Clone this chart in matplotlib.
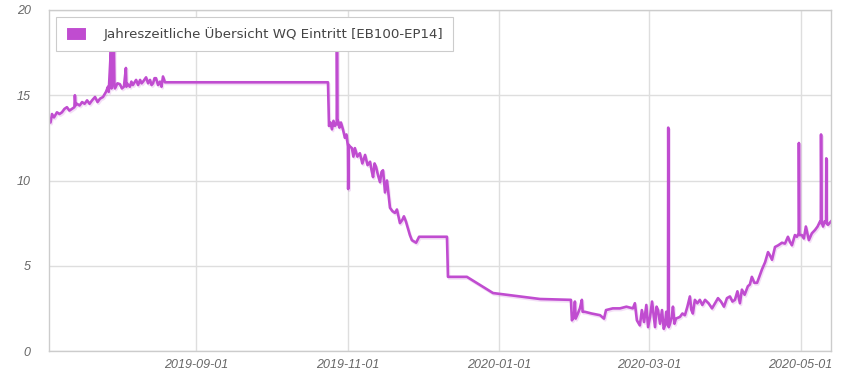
import matplotlib
matplotlib.use("Agg")
import matplotlib.pyplot as plt
import matplotlib.dates as mdates
import matplotlib.patheffects as pe
from matplotlib.patches import Patch
import pandas as pd

# Messwerte WQ Eintritt, Tage ab Startdatum
start = "2019-07-04"
days = [
    0, 0.6, 1.2, 2.0, 3.2, 4.2, 5.2, 6.2, 7.2, 8.2, 9.2, 10.2, 10.4, 10.7, 11.2, 12.3,
    13.3, 14.3, 15.3, 16.3, 17.3, 18.5, 19.5, 20.5, 21.7, 22.9, 23.7, 24.0, 24.9, 25.1,
    25.3, 26.1, 26.3, 26.5, 27.5, 28.5, 29.3, 30.1, 30.9, 31.1, 31.3, 32.5, 33.1, 33.7,
    35.0, 35.8, 36.6, 37.2, 37.8, 39.0, 39.8, 40.6, 41.2, 41.8, 42.4, 43.0, 43.8, 44.6,
    45.2, 45.8, 46.6,
    112.1, 112.5, 113.1, 113.7, 114.3, 114.9, 115.6, 115.7, 115.9, 116.1, 116.7, 117.3,
    118.1, 118.9, 119.5, 120.1, 120.2, 120.4, 120.9, 121.7, 122.3, 122.9, 123.9, 124.9,
    125.9, 127.0, 128.0, 129.0, 129.6, 130.2, 130.8, 131.4, 132.2, 133.0, 133.6, 134.2,
    134.6, 135.0, 135.8, 137.0, 138.0, 139.0, 139.8, 141.0, 142.0, 142.6, 143.4, 144.2,
    145.0, 145.8, 147.5, 148.7, 159.9, 160.3, 167.9, 178.4, 197.3, 209.7,
    210.1, 210.9, 211.3, 211.6, 212.5, 213.3, 214.1, 214.4, 215.3, 218.0, 221.4, 223.0,
    223.8, 226.5, 229.4, 232.0, 234.6, 235.4, 236.2, 237.4, 238.2, 239.1, 240.0, 240.7,
    241.5, 242.3, 243.5, 244.1, 244.7, 245.5, 246.3, 247.0, 247.5, 248.0, 248.7, 248.8,
    249.0, 249.5, 250.2, 250.7, 251.3, 251.9, 253.5, 254.5, 255.5, 256.5, 257.5, 258.1,
    258.7, 259.5, 260.5, 261.5, 262.5, 263.6, 265.0, 266.4, 267.6, 268.8, 270.0, 271.2,
    272.4, 273.6, 274.6, 275.6, 276.6, 277.6, 278.4, 279.5, 280.8, 281.6, 282.4, 283.4,
    284.5, 285.5, 286.5, 287.7, 288.9, 289.7, 290.5, 291.7, 293.0, 294.5, 295.7, 296.9,
    297.7, 298.5, 299.7, 300.5, 301.2, 301.3, 301.5, 302.5, 303.3, 304.1, 305.3, 306.5,
    307.8, 308.8, 309.8, 310.1, 310.2, 310.4, 311.0, 311.6, 312.2, 312.3, 312.5, 313.0,
    314.2,
]
values = [
    13.5, 13.4, 13.9, 13.7, 14.0, 13.9, 14.0, 14.2, 14.3, 14.1, 14.2, 14.3, 15.0, 14.4, 14.5, 14.4,
    14.6, 14.5, 14.7, 14.5, 14.7, 14.9, 14.6, 14.8, 14.9, 15.2, 15.5, 15.2, 17.8, 15.4,
    15.6, 17.8, 15.5, 15.4, 15.7, 15.65, 15.4, 15.5, 16.6, 15.5, 15.7, 15.5, 15.8, 15.6,
    15.9, 15.6, 15.9, 15.7, 15.8, 16.05, 15.7, 15.9, 15.6, 15.7, 16.0, 16.0, 15.6, 15.8,
    15.5, 16.1, 15.76,
    15.76, 13.2, 13.4, 13.0, 13.5, 13.2, 13.4, 17.8, 13.3, 13.5, 13.1, 13.4,
    13.0, 12.5, 12.7, 12.0, 9.5, 12.1, 12.0, 11.9, 11.4, 11.9, 11.4, 11.6,
    11.0, 11.5, 10.9, 11.1, 10.6, 10.2, 11.0, 10.8, 10.3, 9.9, 10.5, 10.6,
    10.0, 9.3, 10.0, 8.4, 8.2, 8.1, 8.3, 7.5, 7.7, 7.9, 7.6, 7.2,
    6.8, 6.5, 6.35, 6.7, 6.7, 4.35, 4.35, 3.4, 3.05, 3.0,
    1.8, 2.0, 2.9, 1.9, 2.2, 2.5, 3.0, 2.3, 2.3, 2.2, 2.1, 1.9,
    2.4, 2.5, 2.5, 2.6, 2.5, 2.8, 1.8, 1.5, 2.4, 1.7, 2.7, 1.4,
    2.0, 2.9, 1.4, 2.6, 2.4, 1.6, 2.4, 1.3, 1.5, 2.3, 1.5, 13.1,
    1.4, 1.6, 2.0, 2.6, 1.6, 1.9, 2.0, 2.2, 2.1, 2.6, 3.2, 2.4,
    2.2, 3.0, 2.8, 3.0, 2.7, 3.0, 2.8, 2.5, 2.8, 3.1, 2.9, 2.6,
    3.1, 3.2, 2.9, 3.0, 3.5, 2.8, 3.6, 3.3, 3.8, 3.9, 4.35, 4.0,
    4.0, 4.4, 4.8, 5.2, 5.8, 5.6, 5.35, 6.1, 6.2, 6.35, 6.3, 6.7,
    6.4, 6.2, 6.8, 6.7, 6.9, 12.2, 6.8, 6.8, 6.6, 7.3, 6.5, 6.9,
    7.1, 7.3, 7.6, 7.5, 12.7, 7.6, 7.3, 7.6, 7.5, 11.3, 7.5, 7.4,
    7.6,
]
label = "Jahreszeitliche Übersicht WQ Eintritt [EB100-EP14]"
yticks = [0, 5, 10, 15, 20]
xticks = ["2019-09-01", "2019-11-01", "2020-01-01", "2020-03-01", "2020-05-01"]

color = "#c04cd0"
grid_color = "#dedede"
tick_color = "#666666"

dates = pd.Timestamp(start) + pd.to_timedelta(days, unit="D")

fig = plt.figure(figsize=(8.5, 3.75), dpi=100)
ax = fig.add_axes([49 / 850, 1 - 351 / 375, 782 / 850, 341 / 375])

ax.plot(dates, values, color=color, lw=1.9, solid_joinstyle="round",
        path_effects=[pe.SimpleLineShadow(offset=(0.8, -1.2), alpha=0.18, shadow_color=color),
                      pe.Normal()])

ax.set_xlim(dates[0], dates[-1])
ax.set_ylim(0, 20)
ax.set_yticks(yticks)
ax.set_xticks(pd.to_datetime(xticks))
ax.xaxis.set_major_formatter(mdates.DateFormatter("%Y-%m-%d"))

ax.grid(True, color=grid_color, lw=1)
ax.set_axisbelow(True)
for s in ax.spines.values():
    s.set_color("#cccccc")
    s.set_linewidth(1)

ax.tick_params(length=0, colors=tick_color)
ax.tick_params(axis="y", pad=13)
ax.tick_params(axis="x", pad=6)
for t in ax.get_xticklabels() + ax.get_yticklabels():
    t.set_fontstyle("italic")
    t.set_fontfamily("Liberation Sans")
    t.set_fontsize(9)

handle = Patch(facecolor=color, edgecolor="white", lw=1.5)
leg = ax.legend([handle], [label], loc="upper left", bbox_to_anchor=(0.009, 0.979),
                borderaxespad=0, fancybox=False, framealpha=1, edgecolor="#cccccc",
                handlelength=1.6, handleheight=1.2, handletextpad=1.2,
                borderpad=0.75, prop={"family": "DejaVu Sans", "size": 9.6})
leg.get_frame().set_linewidth(0.8)
for t in leg.get_texts():
    t.set_color("#444444")

fig.savefig("out.png", dpi=100)
